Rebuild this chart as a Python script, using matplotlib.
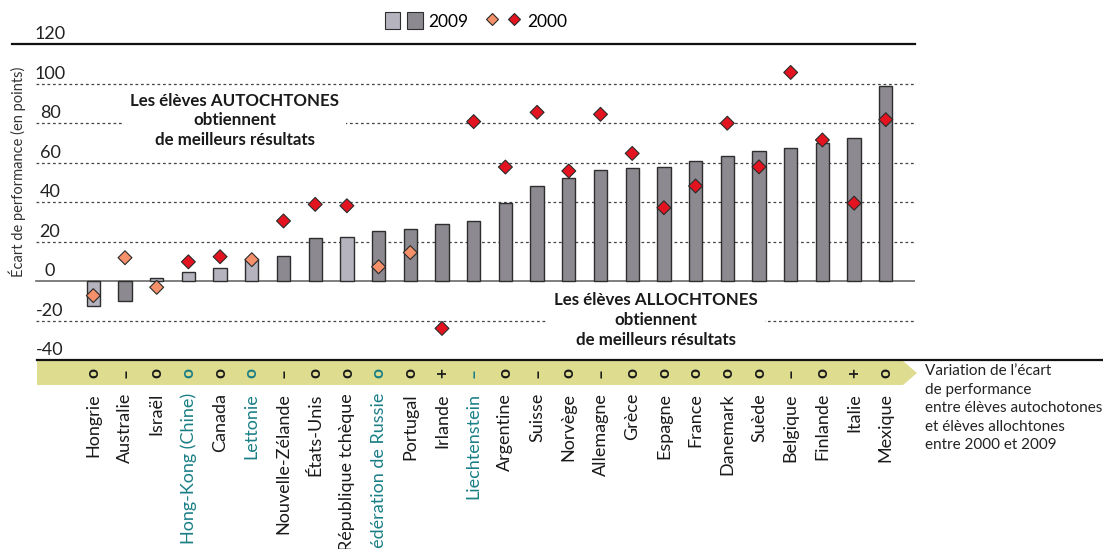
import matplotlib.pyplot as plt
import numpy as np
from matplotlib.patches import Polygon, Patch
from matplotlib.lines import Line2D
from matplotlib.legend_handler import HandlerTuple

plt.rcParams['font.family'] = ['Lato', 'DejaVu Sans']

countries = ["Hongrie", "Australie", "Israël", "Hong-Kong (Chine)", "Canada",
             "Lettonie", "Nouvelle-Zélande", "États-Unis", "République tchèque",
             "Fédération de Russie", "Portugal", "Irlande", "Liechtenstein",
             "Argentine", "Suisse", "Norvège", "Allemagne", "Grèce", "Espagne",
             "France", "Danemark", "Suède", "Belgique", "Finlande", "Italie",
             "Mexique"]
gap_2009 = [-12.8, -10.3, 1.7, 4.4, 6.7, 11.1, 12.8, 21.9, 22.2, 25.1, 26.2,
            28.8, 30.6, 39.6, 47.9, 52.1, 56.2, 57.4, 57.5, 60.6, 63.1, 65.7,
            67.5, 69.7, 72.4, 98.8]
gap_2000 = [-7.4, 11.8, -3.2, 9.7, 12.3, 10.8, 30.4, 38.8, 38.1, 7.2, 14.4,
            -24.0, 80.7, 57.7, 85.4, 55.7, 84.4, 64.6, 37.1, 48.1, 79.9, 57.8,
            105.6, 71.4, 39.4, 81.7]
# significant difference (dark bar / red diamond)
sig_2009 = [0, 1, 0, 0, 0, 0, 1, 1, 0, 1, 1, 1, 1, 1, 1, 1, 1, 1, 1, 1, 1, 1,
            1, 1, 1, 1]
sig_2000 = [0, 0, 0, 1, 1, 0, 1, 1, 1, 0, 0, 1, 1, 1, 1, 1, 1, 1, 1, 1, 1, 1,
            1, 1, 1, 1]
change = ["o", "–", "o", "o", "o", "o", "–", "o", "o", "o", "o", "+", "–",
          "o", "–", "o", "–", "o", "o", "o", "o", "o", "–", "o", "+", "o"]
partners = ["Hong-Kong (Chine)", "Lettonie", "Fédération de Russie", "Liechtenstein"]
yticks = [120, 100, 80, 60, 40, 20, 0, -20, -40]
grid_vals = [100, 80, 60, 40, 20, -20]

bar_light = '#b4b3be'
bar_dark = '#8d8990'
dia_light = '#f4906a'
dia_red = '#e3141f'
teal = '#1a7f86'
band_col = '#dedc8f'

# pixel layout helpers (figure is 1103 x 549 px)
W, H = 1103, 549
x0_px, dx_px = 93.3, 31.7
def px2x(p):
    return (p - x0_px) / dx_px

ytop_px, ybot_px = 44, 360
upp = 160 / (ybot_px - ytop_px)  # data units per pixel
def py2y(p):
    return -40 - (p - ybot_px) * upp

fig = plt.figure(figsize=(W / 100, H / 100), dpi=100)
ax = fig.add_axes([12 / W, 1 - ybot_px / H, (915 - 12) / W, (ybot_px - ytop_px) / H])
ax.set_xlim(px2x(12), px2x(915))
ax.set_ylim(-40, 120)
ax.axis('off')

x = np.arange(len(countries))

# grid / frame lines
for v in grid_vals:
    ax.plot([px2x(36), px2x(915)], [v, v], color='#444444', lw=0.9,
            ls=(0, (2.2, 2.2)), zorder=1)
ax.plot([px2x(36), px2x(915)], [0, 0], color='#6a6a6a', lw=1.2, zorder=3)
ax.plot([px2x(12), px2x(915)], [120, 120], color='#111111', lw=1.6,
        clip_on=False, zorder=3)
ax.plot([px2x(37), px2x(W)], [-40, -40], color='#111111', lw=1.6,
        clip_on=False, zorder=4)

for v in yticks:
    ax.text(px2x(50), v + 0.9, str(v), ha='center', va='bottom', fontsize=13,
            color='#222222')

# bars and diamonds
bar_cols = [bar_dark if s else bar_light for s in sig_2009]
ax.bar(x, gap_2009, width=0.42, color=bar_cols, edgecolor='#2e2e2e',
       linewidth=1.0, zorder=4)
dia_cols = [dia_red if s else dia_light for s in sig_2000]
ax.scatter(x, gap_2000, marker='D', s=50, c=dia_cols, edgecolors='#2a2a2a',
           linewidths=0.8, zorder=5)

# annotation texts
ax.text(px2x(235), 81.3, "Les élèves AUTOCHTONES\nobtiennent\nde meilleurs résultats",
        ha='center', va='center', fontsize=12.2, fontweight='bold',
        color='#1a1a1a', linespacing=1.3, zorder=2,
        bbox=dict(facecolor='white', edgecolor='none', pad=5))
ax.text(px2x(656), -19.7, "Les élèves ALLOCHTONES\nobtiennent\nde meilleurs résultats",
        ha='center', va='center', fontsize=12.2, fontweight='bold',
        color='#1a1a1a', linespacing=1.3, zorder=2,
        bbox=dict(facecolor='white', edgecolor='none', pad=5))

# band with change symbols
bt, bb = py2y(361), py2y(385)
band = Polygon([(px2x(37), bt), (px2x(903), bt), (px2x(917), (bt + bb) / 2),
                (px2x(903), bb), (px2x(37), bb)], closed=True,
               facecolor=band_col, edgecolor='none', clip_on=False, zorder=2)
ax.add_patch(band)
for i, s in enumerate(change):
    col = teal if countries[i] in partners else '#1a1a1a'
    ax.text(i, py2y(373), s, rotation=90, ha='center', va='center',
            fontsize=12.5, fontweight='bold', color=col, clip_on=False)

ax.text(px2x(925), py2y(364),
        "Variation de l’écart\nde performance\nentre élèves autochotones\n"
        "et élèves allochtones\nentre 2000 et 2009",
        ha='left', va='top', fontsize=11, color='#222222', linespacing=1.42,
        clip_on=False)

# country labels (the last one runs off the bottom edge, as in the source)
for i, c in enumerate(countries):
    col = teal if c in partners else '#1a1a1a'
    ax.text(i, py2y(393), c, rotation=90, ha='center', va='top', fontsize=13,
            color=col, clip_on=False)

# y label
fig.text(17 / W, 1 - 172 / H, "Écart de performance (en points)", rotation=90,
         ha='center', va='center', fontsize=10.5, color='#333333')

# legend
h09 = (Patch(facecolor=bar_light, edgecolor='#2e2e2e', lw=0.8),
       Patch(facecolor=bar_dark, edgecolor='#2e2e2e', lw=0.8))
h00 = (Line2D([], [], marker='D', ls='none', ms=6.5, mfc=dia_light, mec='#2a2a2a', mew=0.8),
       Line2D([], [], marker='D', ls='none', ms=6.5, mfc=dia_red, mec='#2a2a2a', mew=0.8))
fig.legend([h09, h00], ['2009', '2000'], handler_map={tuple: HandlerTuple(ndivide=None, pad=0.4)},
           ncol=2, frameon=False, loc='center', bbox_to_anchor=(476 / W, 1 - 21 / H),
           fontsize=12.5, handlelength=2.2, handletextpad=0.3, columnspacing=0.9,
           handleheight=1.1)

fig.savefig('out.png', dpi=100)
